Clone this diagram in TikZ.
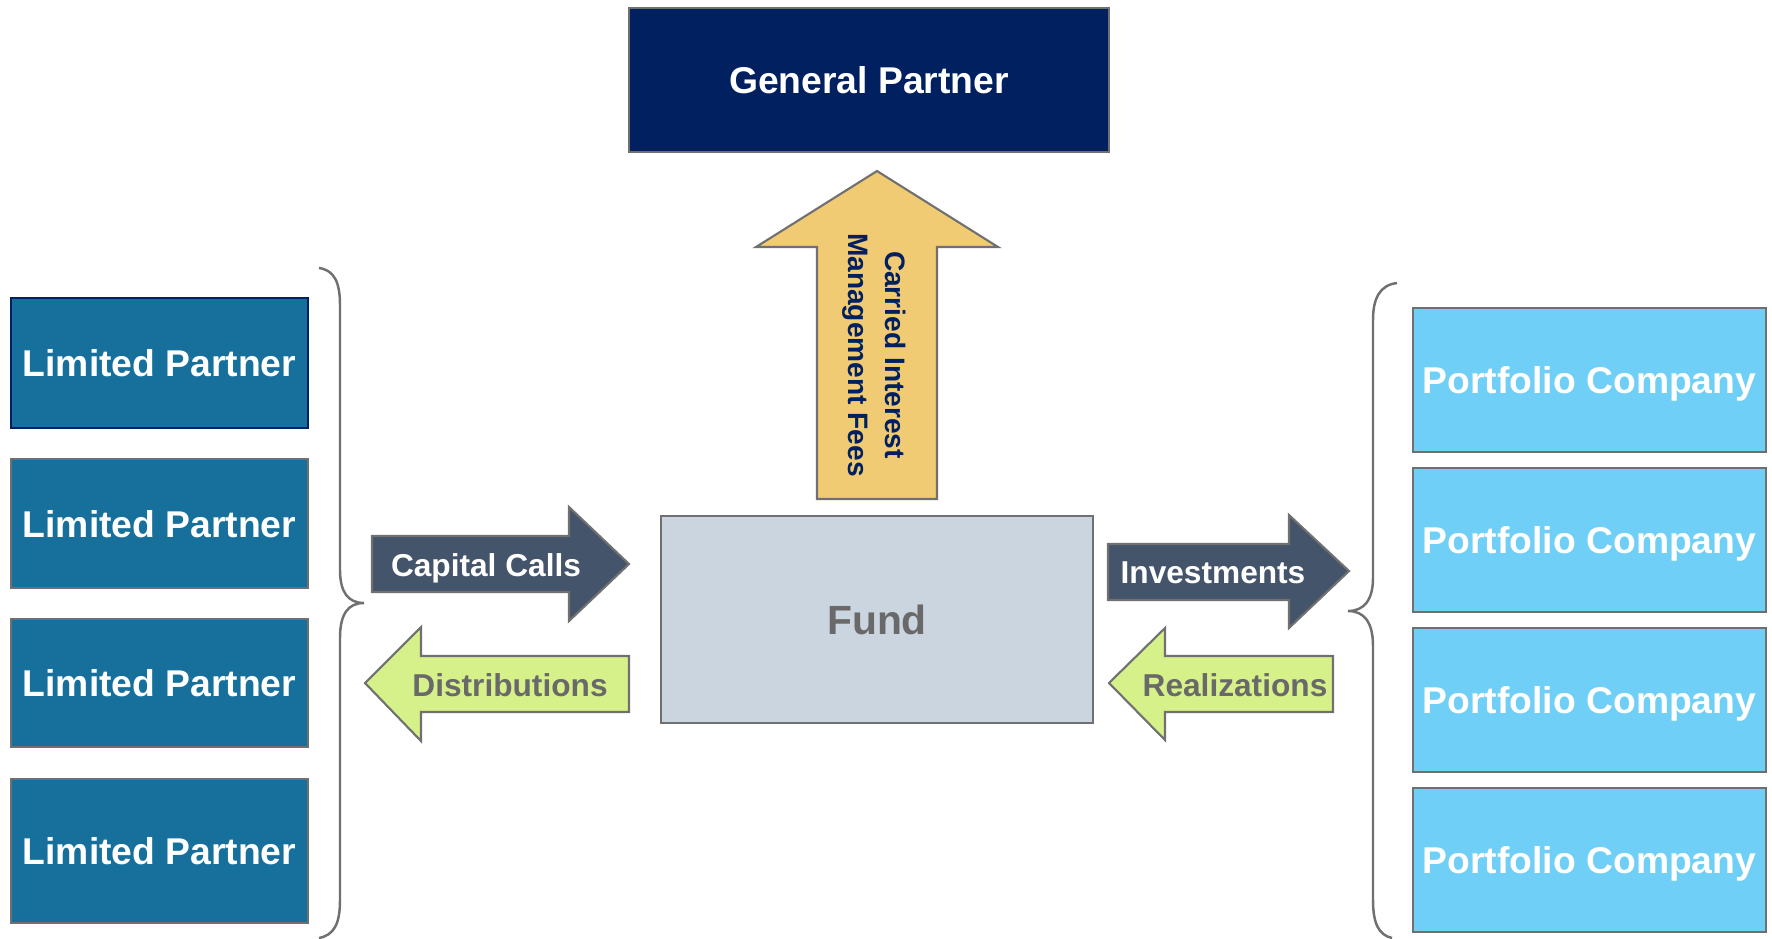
\documentclass[tikz,border=0pt]{standalone}
\usepackage{fontspec}
\setmainfont{Liberation Sans}
\usepackage{tikz}

\definecolor{lpblue}{RGB}{23,112,156}
\definecolor{gpnavy}{RGB}{0,32,96}
\definecolor{pcblue}{RGB}{111,207,246}
\definecolor{fundfill}{RGB}{203,213,224}
\definecolor{slate}{RGB}{68,84,106}
\definecolor{lime}{RGB}{214,240,138}
\definecolor{sand}{RGB}{241,203,115}
\definecolor{edge}{RGB}{112,112,112}
\definecolor{labelgray}{RGB}{105,105,105}

\begin{document}
\begin{tikzpicture}[x=0.01cm,y=-0.01cm,
	box/.style={draw=edge,line width=0.6pt,inner sep=0pt,text=white,text depth=0pt,
		font=\fontsize{10.6}{12}\selectfont\bfseries},
	lp/.style={box,fill=lpblue,minimum width=2.97cm},
	pc/.style={box,fill=pcblue,minimum width=3.53cm,minimum height=1.44cm},
	darkflow/.style={draw=edge,line width=0.6pt,fill=slate},
	backflow/.style={draw=edge,line width=0.6pt,fill=lime},
	flowtext/.style={font=\fontsize{9}{11}\selectfont\bfseries,inner sep=0pt,text depth=0pt},
	brace/.style={draw=edge,line width=0.7pt}]
\useasboundingbox (0,0) rectangle (1772,938);

% arrows between the partners, the fund and the companies
\draw[darkflow] (372,536) -- (569,536) -- (569,507) -- (629,564) -- (569,621) -- (569,592) -- (372,592) -- cycle;
\draw[backflow] (629,656) -- (421,656) -- (421,627) -- (365,683) -- (421,741) -- (421,712) -- (629,712) -- cycle;
\draw[darkflow] (1108,544) -- (1289,544) -- (1289,515) -- (1349,571) -- (1289,628) -- (1289,600) -- (1108,600) -- cycle;
\draw[backflow] (1333,656) -- (1165,656) -- (1165,628) -- (1109,683) -- (1165,740) -- (1165,712) -- (1333,712) -- cycle;
\draw[draw=edge,line width=0.6pt,fill=sand] (817,499) -- (817,247) -- (756,247) -- (877,171) -- (998,247) -- (937,247) -- (937,499) -- cycle;

\path (869,80) node[box,fill=gpnavy,minimum width=4.8cm,minimum height=1.44cm] (gp) {General Partner}
	(877,619.5) node[box,fill=fundfill,minimum width=4.32cm,minimum height=2.07cm,
		text=labelgray,font=\fontsize{11.6}{13}\selectfont\bfseries] (fund) {Fund}
	(159.5,363) node[lp,draw=gpnavy,minimum height=1.3cm] (lp1) {Limited Partner}
	(159.5,523.5) node[lp,minimum height=1.29cm] (lp2) {Limited Partner}
	(159.5,683) node[lp,minimum height=1.28cm] (lp3) {Limited Partner}
	(159.5,851) node[lp,minimum height=1.44cm] (lp4) {Limited Partner}
	(1589.5,380) node[pc] (pc1) {Portfolio Company}
	(1589.5,540) node[pc] (pc2) {Portfolio Company}
	(1589.5,700) node[pc] (pc3) {Portfolio Company}
	(1589.5,860) node[pc] (pc4) {Portfolio Company}
	(486,565) node[flowtext,text=white] (calls) {Capital Calls}
	(510,685) node[flowtext,text=labelgray] (dist) {Distributions}
	(1213,573) node[flowtext,text=white] (inv) {Investments}
	(1235,685) node[flowtext,text=labelgray] (real) {Realizations}
	(874,355) node[rotate=-90,align=center,text=gpnavy,inner sep=0pt,
		font=\fontsize{8}{10.5}\selectfont\bfseries] (fees) {Carried Interest\\Management Fees};

% braces grouping the partners and the companies
\draw[brace] (319,268) .. controls (334,270) and (340,282) .. (340,305) -- (340,570)
	.. controls (340,592) and (348,603) .. (364,603)
	.. controls (348,603) and (340,614) .. (340,638) -- (340,900)
	.. controls (340,924) and (334,935) .. (319,938);
\draw[brace] (1397,283) .. controls (1380,285) and (1373,298) .. (1373,320) -- (1373,578)
	.. controls (1373,600) and (1364,611) .. (1348,611)
	.. controls (1364,611) and (1373,622) .. (1373,646) -- (1373,900)
	.. controls (1373,924) and (1379,935) .. (1392,938);
\end{tikzpicture}
\end{document}
